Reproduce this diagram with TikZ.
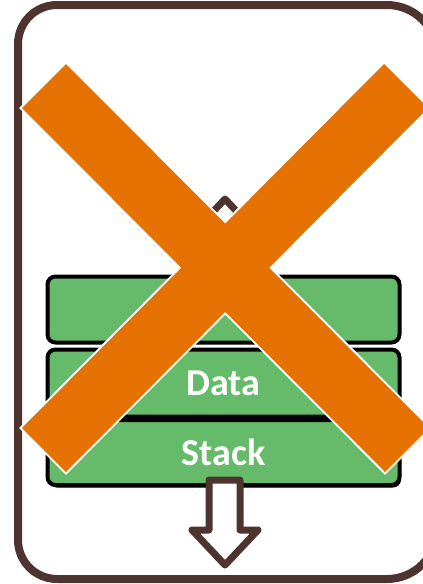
\documentclass[tikz,border=0pt]{standalone}
\usepackage{fontspec}
\setmainfont{Carlito}
\usetikzlibrary{shadows}
\definecolor{framebrown}{RGB}{78,52,46}
\definecolor{segfill}{RGB}{102,187,106}
\definecolor{crossorange}{RGB}{229,114,0}
\tikzset{
  segment/.style={draw=black, line width=4pt, fill=segfill, rounded corners=8pt,
    minimum width=352pt, text=white, inner sep=0pt,
    font=\fontsize{38}{42}\selectfont\bfseries},
  growarrow/.style={draw=framebrown, fill=white, line width=7pt, line join=round},
  crossbar/.style={fill=crossorange},
  crossedge/.style={draw=white, line width=4pt, line join=miter},
  framepart/.style={draw=framebrown, line width=8pt}
}
\begin{document}
\begin{tikzpicture}[x=1pt, y=-1pt]
  \useasboundingbox (0,0) rectangle (423,584);
  \clip (0,0) rectangle (423,584);

  % outer frame: left half and right half with their own corner radii
  \draw[framepart, rounded corners=39pt] (227,5) -- (18,5) -- (18,579) -- (227,579);
  \draw[framepart, rounded corners=50pt] (227,5) -- (437,5) -- (437,579) -- (227,579);

  % memory segments
  \node[segment, minimum height=66pt] (heap) at (223.5,309.5) {Heap};
  \node[segment, minimum height=67pt] (data) at (223.5,383) {Data};
  \node[segment, minimum height=65pt,
        drop shadow={shadow xshift=1.5pt, shadow yshift=-2.5pt, fill=black, opacity=1}]
        (stack) at (223.5,452.5) {Stack};

  % growth arrows
  \draw[growarrow] (209,284) -- (209,234) -- (192,234) -- (225,199) -- (258,234)
        -- (240,234) -- (240,284) -- cycle;
  \draw[growarrow] (209,480) -- (209,530) -- (192,530) -- (225,565) -- (258,530)
        -- (240,530) -- (240,480) -- cycle;

  % cross: white rim first, then the orange bars on top
  \draw[crossedge] (22,108) -- (66,64) -- (429,428) -- (385,472) -- cycle;
  \draw[crossedge] (384,64) -- (428,108) -- (66,472) -- (22,428) -- cycle;
  \fill[crossbar] (22,108) -- (66,64) -- (429,428) -- (385,472) -- cycle;
  \fill[crossbar] (384,64) -- (428,108) -- (66,472) -- (22,428) -- cycle;
\end{tikzpicture}
\end{document}
